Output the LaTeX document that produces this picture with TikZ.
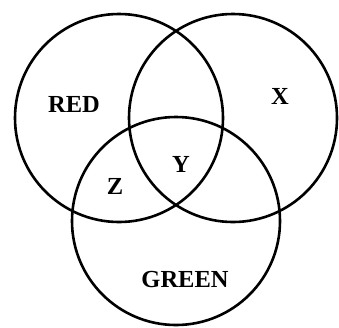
\documentclass[tikz,border=0pt]{standalone}
\usepackage{fontspec}
\setmainfont{Liberation Serif}
\begin{document}
\begin{tikzpicture}[x=1pt,y=-1pt,
  ring/.style={line width=2.6pt},
  lbl/.style={font=\fontsize{24.5}{26}\selectfont\bfseries,inner sep=0pt}]
\useasboundingbox (0,0) rectangle (339,327);
\draw[ring] (119,118) circle[radius=104pt];
\draw[ring] (233,118) circle[radius=104pt];
\draw[ring] (176,221) circle[radius=104pt];
\node[lbl] (red) at (74,104) {RED};
\node[lbl] (x) at (280,96) {X};
\node[lbl] (y) at (181,164) {Y};
\node[lbl] (z) at (115,186) {Z};
\node[lbl] (green) at (185,280) {GREEN};
\end{tikzpicture}
\end{document}
